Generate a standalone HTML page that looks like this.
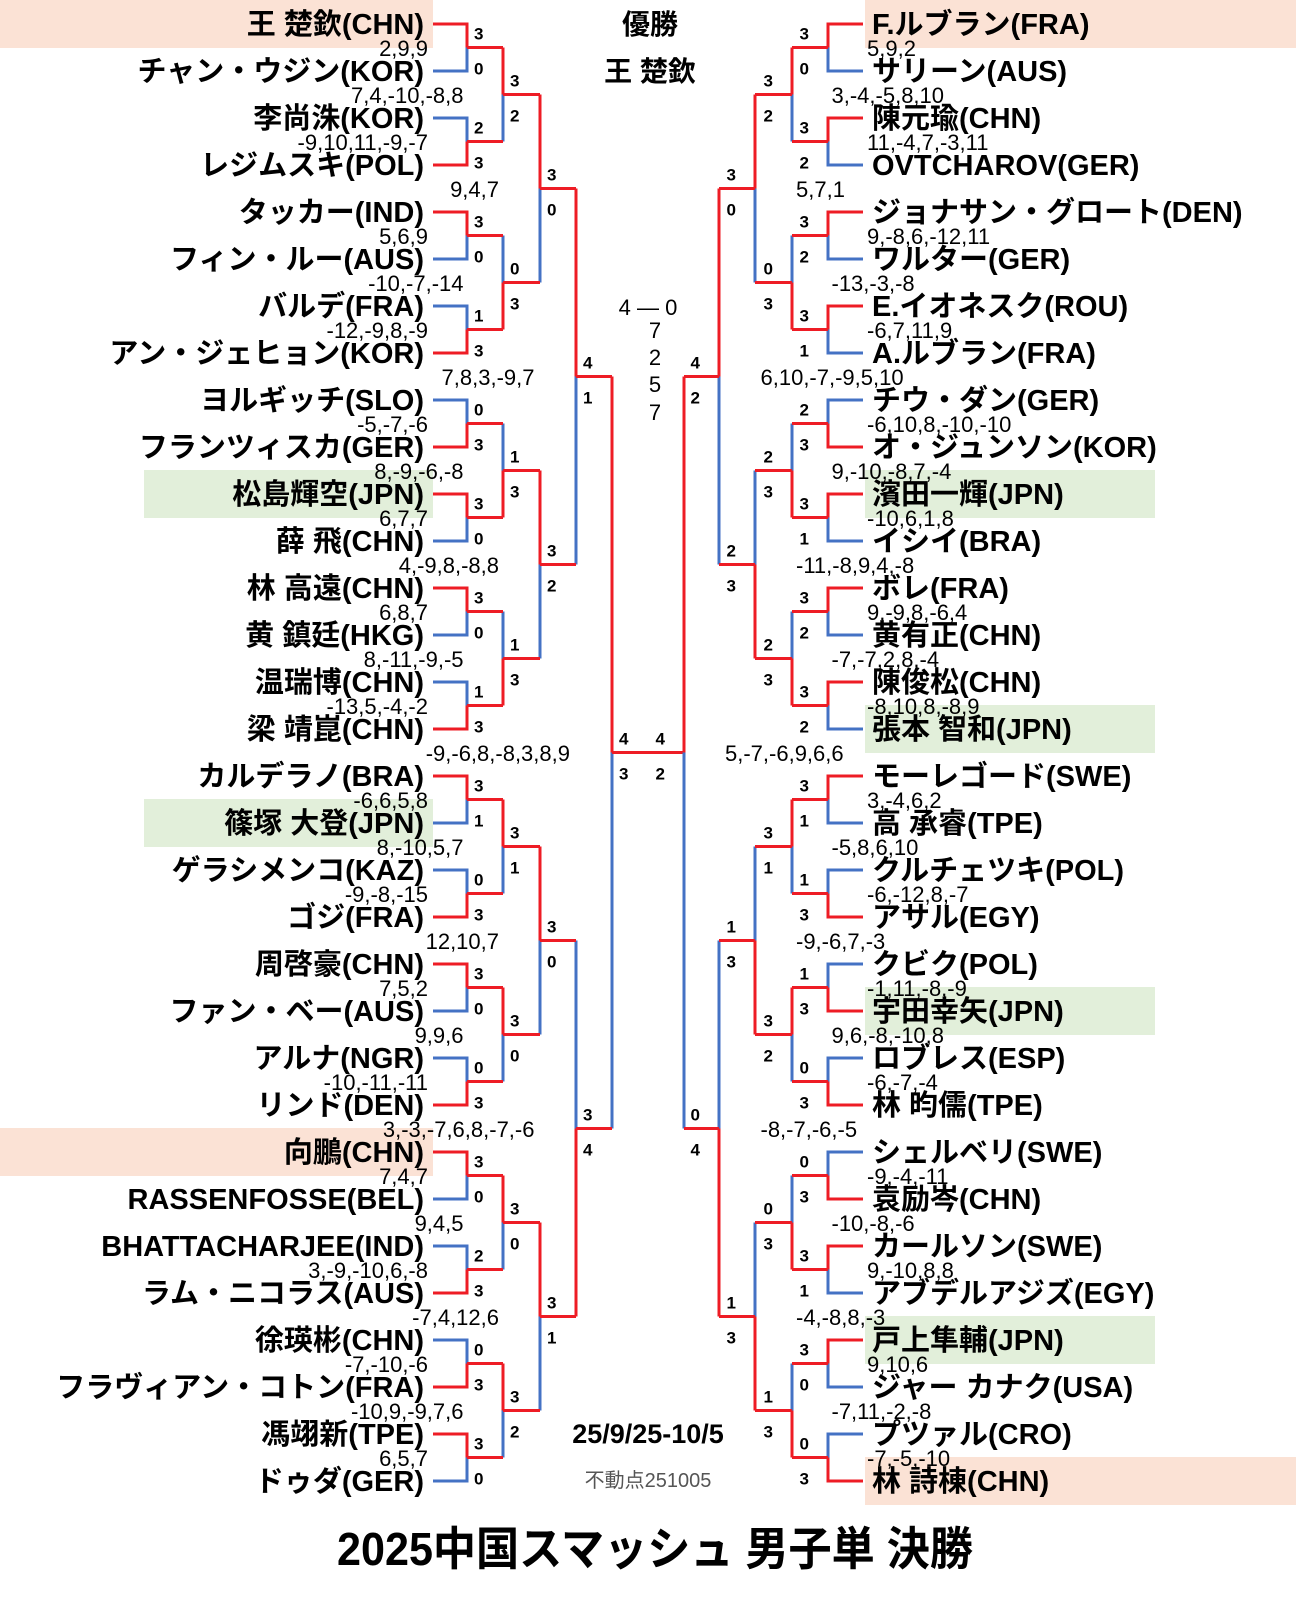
<!DOCTYPE html>
<html><head><meta charset="utf-8"><style>
html,body{margin:0;padding:0;background:#fff;}
svg{display:block;}
.n{font:bold 29px "Liberation Sans","Noto Sans CJK JP",sans-serif;fill:#000;}
.g{font:22px "Liberation Sans","Noto Sans CJK JP",sans-serif;fill:#000;}
.s{font:bold 17px "Liberation Sans",sans-serif;fill:#000;}
.r{fill:none;stroke:#ee1c25;stroke-width:3;}
.b{fill:none;stroke:#4472c4;stroke-width:3;}
</style></head><body>
<svg width="1296" height="1598" viewBox="0 0 1296 1598" xmlns="http://www.w3.org/2000/svg">
<rect width="1296" height="1598" fill="#fff"/>
<!-- highlight boxes -->
<g fill="#fbe2d5">
<rect x="0" y="0" width="433" height="48"/>
<rect x="0" y="1128" width="433" height="48"/>
<rect x="865" y="0" width="431" height="48"/>
<rect x="865" y="1457" width="431" height="48"/>
</g>
<g fill="#e2efda">
<rect x="144" y="470" width="289" height="48"/>
<rect x="144" y="799" width="289" height="48"/>
<rect x="865" y="470" width="290" height="48"/>
<rect x="865" y="705" width="290" height="48"/>
<rect x="865" y="987" width="290" height="48"/>
<rect x="865" y="1316" width="290" height="48"/>
</g>

<!-- LEFT blue -->
<path class="b" d="M433 71H467V47.5M433 118H467V141.5M433 259H467V235.5M433 306H467V329.5M433 400H467V423.5M433 541H467V517.5M433 635H467V611.5M433 682H467V705.5M433 823H467V799.5M433 870H467V893.5M433 1011H467V987.5M433 1058H467V1081.5M433 1199H467V1175.5M433 1246H467V1269.5M433 1340H467V1363.5M433 1481H467V1457.5
M503 141.5V94.5M503 235.5V282.5M503 423.5V470.5M503 611.5V658.5M503 893.5V846.5M503 1081.5V1034.5M503 1269.5V1222.5M503 1457.5V1410.5
M540 282.5V188.5M540 658.5V564.5M540 1034.5V940.5M540 1410.5V1316.5
M576 564.5V376.5M576 940.5V1128.5M612 1128.5V752.5"/>
<!-- LEFT red -->
<path class="r" d="M433 24H467V47.5M433 165H467V141.5M433 212H467V235.5M433 353H467V329.5M433 447H467V423.5M433 494H467V517.5M433 588H467V611.5M433 729H467V705.5M433 776H467V799.5M433 917H467V893.5M433 964H467V987.5M433 1105H467V1081.5M433 1152H467V1175.5M433 1293H467V1269.5M433 1387H467V1363.5M433 1434H467V1457.5
M467 47.5H503M467 141.5H503M467 235.5H503M467 329.5H503M467 423.5H503M467 517.5H503M467 611.5H503M467 705.5H503M467 799.5H503M467 893.5H503M467 987.5H503M467 1081.5H503M467 1175.5H503M467 1269.5H503M467 1363.5H503M467 1457.5H503
M503 47.5V94.5M503 329.5V282.5M503 517.5V470.5M503 705.5V658.5M503 799.5V846.5M503 987.5V1034.5M503 1175.5V1222.5M503 1363.5V1410.5
M503 94.5H540M503 282.5H540M503 470.5H540M503 658.5H540M503 846.5H540M503 1034.5H540M503 1222.5H540M503 1410.5H540
M540 94.5V188.5M540 470.5V564.5M540 846.5V940.5M540 1222.5V1316.5
M540 188.5H576M540 564.5H576M540 940.5H576M540 1316.5H576
M576 188.5V376.5M576 1316.5V1128.5
M576 376.5H612M576 1128.5H612M612 376.5V752.5M612 752.5H684"/>

<!-- RIGHT blue -->
<path class="b" d="M863 71H828V47.5M863 165H828V141.5M863 259H828V235.5M863 353H828V329.5M863 400H828V423.5M863 541H828V517.5M863 635H828V611.5M863 729H828V705.5M863 823H828V799.5M863 870H828V893.5M863 964H828V987.5M863 1058H828V1081.5M863 1152H828V1175.5M863 1293H828V1269.5M863 1387H828V1363.5M863 1434H828V1457.5
M792 141.5V94.5M792 235.5V282.5M792 423.5V470.5M792 611.5V658.5M792 893.5V846.5M792 1081.5V1034.5M792 1175.5V1222.5M792 1363.5V1410.5
M755 282.5V188.5M755 470.5V564.5M755 846.5V940.5M755 1222.5V1316.5
M719 564.5V376.5M719 940.5V1128.5M684 1128.5V752.5"/>
<!-- RIGHT red -->
<path class="r" d="M863 24H828V47.5M863 118H828V141.5M863 212H828V235.5M863 306H828V329.5M863 447H828V423.5M863 494H828V517.5M863 588H828V611.5M863 682H828V705.5M863 776H828V799.5M863 917H828V893.5M863 1011H828V987.5M863 1105H828V1081.5M863 1199H828V1175.5M863 1246H828V1269.5M863 1340H828V1363.5M863 1481H828V1457.5
M828 47.5H792M828 141.5H792M828 235.5H792M828 329.5H792M828 423.5H792M828 517.5H792M828 611.5H792M828 705.5H792M828 799.5H792M828 893.5H792M828 987.5H792M828 1081.5H792M828 1175.5H792M828 1269.5H792M828 1363.5H792M828 1457.5H792
M792 47.5V94.5M792 329.5V282.5M792 517.5V470.5M792 705.5V658.5M792 799.5V846.5M792 987.5V1034.5M792 1269.5V1222.5M792 1457.5V1410.5
M792 94.5H755M792 282.5H755M792 470.5H755M792 658.5H755M792 846.5H755M792 1034.5H755M792 1222.5H755M792 1410.5H755
M755 94.5V188.5M755 658.5V564.5M755 1034.5V940.5M755 1410.5V1316.5
M755 188.5H719M755 564.5H719M755 940.5H719M755 1316.5H719
M719 188.5V376.5M719 1316.5V1128.5
M719 376.5H684M719 1128.5H684M684 376.5V752.5"/>

<!-- LEFT names -->
<g class="n" text-anchor="end">
<text x="424" y="34">王 楚欽(CHN)</text>
<text x="424" y="81">チャン・ウジン(KOR)</text>
<text x="424" y="128">李尚洙(KOR)</text>
<text x="424" y="175">レジムスキ(POL)</text>
<text x="424" y="222">タッカー(IND)</text>
<text x="424" y="269">フィン・ルー(AUS)</text>
<text x="424" y="316">バルデ(FRA)</text>
<text x="424" y="363">アン・ジェヒョン(KOR)</text>
<text x="424" y="410">ヨルギッチ(SLO)</text>
<text x="424" y="457">フランツィスカ(GER)</text>
<text x="424" y="504">松島輝空(JPN)</text>
<text x="424" y="551">薛 飛(CHN)</text>
<text x="424" y="598">林 高遠(CHN)</text>
<text x="424" y="645">黄 鎮廷(HKG)</text>
<text x="424" y="692">温瑞博(CHN)</text>
<text x="424" y="739">梁 靖崑(CHN)</text>
<text x="424" y="786">カルデラノ(BRA)</text>
<text x="424" y="833">篠塚 大登(JPN)</text>
<text x="424" y="880">ゲラシメンコ(KAZ)</text>
<text x="424" y="927">ゴジ(FRA)</text>
<text x="424" y="974">周啓豪(CHN)</text>
<text x="424" y="1021">ファン・ベー(AUS)</text>
<text x="424" y="1068">アルナ(NGR)</text>
<text x="424" y="1115">リンド(DEN)</text>
<text x="424" y="1162">向鵬(CHN)</text>
<text x="424" y="1209">RASSENFOSSE(BEL)</text>
<text x="424" y="1256">BHATTACHARJEE(IND)</text>
<text x="424" y="1303">ラム・ニコラス(AUS)</text>
<text x="424" y="1350">徐瑛彬(CHN)</text>
<text x="424" y="1397">フラヴィアン・コトン(FRA)</text>
<text x="424" y="1444">馮翊新(TPE)</text>
<text x="424" y="1491">ドゥダ(GER)</text>
</g>
<!-- RIGHT names -->
<g class="n">
<text x="872" y="34">F.ルブラン(FRA)</text>
<text x="872" y="81">サリーン(AUS)</text>
<text x="872" y="128">陳元瑜(CHN)</text>
<text x="872" y="175">OVTCHAROV(GER)</text>
<text x="872" y="222">ジョナサン・グロート(DEN)</text>
<text x="872" y="269">ワルター(GER)</text>
<text x="872" y="316">E.イオネスク(ROU)</text>
<text x="872" y="363">A.ルブラン(FRA)</text>
<text x="872" y="410">チウ・ダン(GER)</text>
<text x="872" y="457">オ・ジュンソン(KOR)</text>
<text x="872" y="504">濱田一輝(JPN)</text>
<text x="872" y="551">イシイ(BRA)</text>
<text x="872" y="598">ボレ(FRA)</text>
<text x="872" y="645">黄有正(CHN)</text>
<text x="872" y="692">陳俊松(CHN)</text>
<text x="872" y="739">張本 智和(JPN)</text>
<text x="872" y="786">モーレゴード(SWE)</text>
<text x="872" y="833">高 承睿(TPE)</text>
<text x="872" y="880">クルチェツキ(POL)</text>
<text x="872" y="927">アサル(EGY)</text>
<text x="872" y="974">クビク(POL)</text>
<text x="872" y="1021">宇田幸矢(JPN)</text>
<text x="872" y="1068">ロブレス(ESP)</text>
<text x="872" y="1115">林 昀儒(TPE)</text>
<text x="872" y="1162">シェルベリ(SWE)</text>
<text x="872" y="1209">袁励岑(CHN)</text>
<text x="872" y="1256">カールソン(SWE)</text>
<text x="872" y="1303">アブデルアジズ(EGY)</text>
<text x="872" y="1350">戸上隼輔(JPN)</text>
<text x="872" y="1397">ジャー カナク(USA)</text>
<text x="872" y="1444">プツァル(CRO)</text>
<text x="872" y="1491">林 詩棟(CHN)</text>
</g>

<!-- LEFT game scores -->
<g class="g" text-anchor="end">
<text x="428" y="56">2,9,9</text>
<text x="463.5" y="103">7,4,-10,-8,8</text>
<text x="428" y="150">-9,10,11,-9,-7</text>
<text x="499" y="197">9,4,7</text>
<text x="428" y="244">5,6,9</text>
<text x="463.5" y="291">-10,-7,-14</text>
<text x="428" y="338">-12,-9,8,-9</text>
<text x="534.5" y="385">7,8,3,-9,7</text>
<text x="428" y="432">-5,-7,-6</text>
<text x="463.5" y="479">8,-9,-6,-8</text>
<text x="428" y="526">6,7,7</text>
<text x="499" y="573">4,-9,8,-8,8</text>
<text x="428" y="620">6,8,7</text>
<text x="463.5" y="667">8,-11,-9,-5</text>
<text x="428" y="714">-13,5,-4,-2</text>
<text x="570" y="761">-9,-6,8,-8,3,8,9</text>
<text x="428" y="808">-6,6,5,8</text>
<text x="463.5" y="855">8,-10,5,7</text>
<text x="428" y="902">-9,-8,-15</text>
<text x="499" y="949">12,10,7</text>
<text x="428" y="996">7,5,2</text>
<text x="463.5" y="1043">9,9,6</text>
<text x="428" y="1090">-10,-11,-11</text>
<text x="534.5" y="1137">3,-3,-7,6,8,-7,-6</text>
<text x="428" y="1184">7,4,7</text>
<text x="463.5" y="1231">9,4,5</text>
<text x="428" y="1278">3,-9,-10,6,-8</text>
<text x="499" y="1325">-7,4,12,6</text>
<text x="428" y="1372">-7,-10,-6</text>
<text x="463.5" y="1419">-10,9,-9,7,6</text>
<text x="428" y="1466">6,5,7</text>
</g>
<!-- RIGHT game scores -->
<g class="g">
<text x="867" y="56">5,9,2</text>
<text x="831.5" y="103">3,-4,-5,8,10</text>
<text x="867" y="150">11,-4,7,-3,11</text>
<text x="796" y="197">5,7,1</text>
<text x="867" y="244">9,-8,6,-12,11</text>
<text x="831.5" y="291">-13,-3,-8</text>
<text x="867" y="338">-6,7,11,9</text>
<text x="760.5" y="385">6,10,-7,-9,5,10</text>
<text x="867" y="432">-6,10,8,-10,-10</text>
<text x="831.5" y="479">9,-10,-8,7,-4</text>
<text x="867" y="526">-10,6,1,8</text>
<text x="796" y="573">-11,-8,9,4,-8</text>
<text x="867" y="620">9,-9,8,-6,4</text>
<text x="831.5" y="667">-7,-7,2,8,-4</text>
<text x="867" y="714">-8,10,8,-8,9</text>
<text x="725" y="761">5,-7,-6,9,6,6</text>
<text x="867" y="808">3,-4,6,2</text>
<text x="831.5" y="855">-5,8,6,10</text>
<text x="867" y="902">-6,-12,8,-7</text>
<text x="796" y="949">-9,-6,7,-3</text>
<text x="867" y="996">-1,11,-8,-9</text>
<text x="831.5" y="1043">9,6,-8,-10,8</text>
<text x="867" y="1090">-6,-7,-4</text>
<text x="760.5" y="1137">-8,-7,-6,-5</text>
<text x="867" y="1184">-9,-4,-11</text>
<text x="831.5" y="1231">-10,-8,-6</text>
<text x="867" y="1278">9,-10,8,8</text>
<text x="796" y="1325">-4,-8,8,-3</text>
<text x="867" y="1372">9,10,6</text>
<text x="831.5" y="1419">-7,11,-2,-8</text>
<text x="867" y="1466">-7,-5,-10</text>
</g>

<!-- LEFT match scores -->
<g class="s">
<text x="474" y="39.5">3</text><text x="474" y="74.5">0</text>
<text x="474" y="133.5">2</text><text x="474" y="168.5">3</text>
<text x="474" y="227.5">3</text><text x="474" y="262.5">0</text>
<text x="474" y="321.5">1</text><text x="474" y="356.5">3</text>
<text x="474" y="415.5">0</text><text x="474" y="450.5">3</text>
<text x="474" y="509.5">3</text><text x="474" y="544.5">0</text>
<text x="474" y="603.5">3</text><text x="474" y="638.5">0</text>
<text x="474" y="697.5">1</text><text x="474" y="732.5">3</text>
<text x="474" y="791.5">3</text><text x="474" y="826.5">1</text>
<text x="474" y="885.5">0</text><text x="474" y="920.5">3</text>
<text x="474" y="979.5">3</text><text x="474" y="1014.5">0</text>
<text x="474" y="1073.5">0</text><text x="474" y="1108.5">3</text>
<text x="474" y="1167.5">3</text><text x="474" y="1202.5">0</text>
<text x="474" y="1261.5">2</text><text x="474" y="1296.5">3</text>
<text x="474" y="1355.5">0</text><text x="474" y="1390.5">3</text>
<text x="474" y="1449.5">3</text><text x="474" y="1484.5">0</text>

<text x="510" y="86.5">3</text><text x="510" y="121.5">2</text>
<text x="510" y="274.5">0</text><text x="510" y="309.5">3</text>
<text x="510" y="462.5">1</text><text x="510" y="497.5">3</text>
<text x="510" y="650.5">1</text><text x="510" y="685.5">3</text>
<text x="510" y="838.5">3</text><text x="510" y="873.5">1</text>
<text x="510" y="1026.5">3</text><text x="510" y="1061.5">0</text>
<text x="510" y="1214.5">3</text><text x="510" y="1249.5">0</text>
<text x="510" y="1402.5">3</text><text x="510" y="1437.5">2</text>

<text x="547" y="180.5">3</text><text x="547" y="215.5">0</text>
<text x="547" y="556.5">3</text><text x="547" y="591.5">2</text>
<text x="547" y="932.5">3</text><text x="547" y="967.5">0</text>
<text x="547" y="1308.5">3</text><text x="547" y="1343.5">1</text>

<text x="583" y="368.5">4</text><text x="583" y="403.5">1</text>
<text x="583" y="1120.5">3</text><text x="583" y="1155.5">4</text>

<text x="619" y="744.5">4</text><text x="619" y="779.5">3</text>
</g>
<!-- RIGHT match scores -->
<g class="s" text-anchor="end">
<text x="809" y="39.5">3</text><text x="809" y="74.5">0</text>
<text x="809" y="133.5">3</text><text x="809" y="168.5">2</text>
<text x="809" y="227.5">3</text><text x="809" y="262.5">2</text>
<text x="809" y="321.5">3</text><text x="809" y="356.5">1</text>
<text x="809" y="415.5">2</text><text x="809" y="450.5">3</text>
<text x="809" y="509.5">3</text><text x="809" y="544.5">1</text>
<text x="809" y="603.5">3</text><text x="809" y="638.5">2</text>
<text x="809" y="697.5">3</text><text x="809" y="732.5">2</text>
<text x="809" y="791.5">3</text><text x="809" y="826.5">1</text>
<text x="809" y="885.5">1</text><text x="809" y="920.5">3</text>
<text x="809" y="979.5">1</text><text x="809" y="1014.5">3</text>
<text x="809" y="1073.5">0</text><text x="809" y="1108.5">3</text>
<text x="809" y="1167.5">0</text><text x="809" y="1202.5">3</text>
<text x="809" y="1261.5">3</text><text x="809" y="1296.5">1</text>
<text x="809" y="1355.5">3</text><text x="809" y="1390.5">0</text>
<text x="809" y="1449.5">0</text><text x="809" y="1484.5">3</text>

<text x="773" y="86.5">3</text><text x="773" y="121.5">2</text>
<text x="773" y="274.5">0</text><text x="773" y="309.5">3</text>
<text x="773" y="462.5">2</text><text x="773" y="497.5">3</text>
<text x="773" y="650.5">2</text><text x="773" y="685.5">3</text>
<text x="773" y="838.5">3</text><text x="773" y="873.5">1</text>
<text x="773" y="1026.5">3</text><text x="773" y="1061.5">2</text>
<text x="773" y="1214.5">0</text><text x="773" y="1249.5">3</text>
<text x="773" y="1402.5">1</text><text x="773" y="1437.5">3</text>

<text x="736" y="180.5">3</text><text x="736" y="215.5">0</text>
<text x="736" y="556.5">2</text><text x="736" y="591.5">3</text>
<text x="736" y="932.5">1</text><text x="736" y="967.5">3</text>
<text x="736" y="1308.5">1</text><text x="736" y="1343.5">3</text>

<text x="700" y="368.5">4</text><text x="700" y="403.5">2</text>
<text x="700" y="1120.5">0</text><text x="700" y="1155.5">4</text>

<text x="665" y="744.5">4</text><text x="665" y="779.5">2</text>
</g>

<!-- center texts -->
<g font-family="'Liberation Sans','Noto Sans CJK JP',sans-serif" text-anchor="middle">
<text x="650" y="34" font-size="28" font-weight="bold">優勝</text>
<text x="650" y="81" font-size="28" font-weight="bold">王 楚欽</text>
<text x="648" y="315" font-size="22">4 — 0</text>
<text x="655" y="338" font-size="22">7</text>
<text x="655" y="365" font-size="22">2</text>
<text x="655" y="392" font-size="22">5</text>
<text x="655" y="420" font-size="22">7</text>
<text x="648" y="1443" font-size="27" font-weight="bold">25/9/25-10/5</text>
<text x="648" y="1487" font-size="20" fill="#555">不動点251005</text>
</g>
<text x="337" y="1565" font-family="'Liberation Sans','Noto Sans CJK JP',sans-serif" font-size="46" font-weight="bold" textLength="636" lengthAdjust="spacingAndGlyphs">2025中国スマッシュ 男子単 決勝</text>
</svg>
</body></html>
